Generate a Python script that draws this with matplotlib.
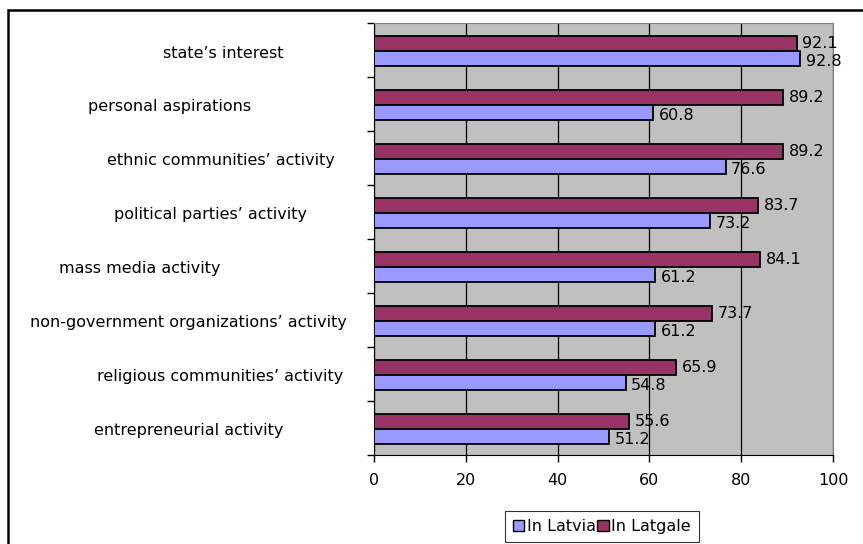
import numpy as np
import matplotlib
matplotlib.use("Agg")
import matplotlib.pyplot as plt
from matplotlib.patches import Rectangle, Patch

# data (top to bottom)
categories = [
    "state\u2019s interest",
    "personal aspirations",
    "ethnic communities\u2019 activity",
    "political parties\u2019 activity",
    "mass media activity",
    "non-government organizations\u2019 activity",
    "religious communities\u2019 activity",
    "entrepreneurial activity",
]
latgale = [92.1, 89.2, 89.2, 83.7, 84.1, 73.7, 65.9, 55.6]
latvia = [92.8, 60.8, 76.6, 73.2, 61.2, 61.2, 54.8, 51.2]
x_ticks = [0, 20, 40, 60, 80, 100]

# label centres in pixels (category labels are not aligned in the original)
label_cx = [223, 170, 221, 210, 140, 188, 220, 189]

W, H = 863, 544
fs = 11.5
fig = plt.figure(figsize=(W / 100, H / 100), dpi=100)
plt.rcParams['font.family'] = ['DejaVu Sans']

# outer frame
fig.patches.append(Rectangle((8 / W, -0.05), 1.2, 1 - 10 / H + 0.05, transform=fig.transFigure,
                             fill=False, edgecolor='black', linewidth=1.8, zorder=0))

ax = fig.add_axes([374 / W, 1 - 455 / H, (833 - 374) / W, (455 - 23) / H])
ax.set_facecolor('#C0C0C0')

y = np.arange(len(categories))
h = 0.28
ax.barh(y - h / 2 + 0.02, latgale, height=h, color='#993366', edgecolor='black', linewidth=1.3, zorder=3, label='In Latgale')
ax.barh(y + h / 2 + 0.02, latvia, height=h, color='#9999FF', edgecolor='black', linewidth=1.3, zorder=3, label='In Latvia')

for i in range(len(categories)):
    ax.annotate(f"{latgale[i]:.1f}", (latgale[i], y[i] - h / 2 + 0.02), xytext=(4, 0), textcoords='offset points',
                va='center', ha='left', fontsize=fs, zorder=4)
    ax.annotate(f"{latvia[i]:.1f}", (latvia[i], y[i] + h / 2 + 0.02), xytext=(4, -2), textcoords='offset points',
                va='center', ha='left', fontsize=fs, zorder=4)

ax.set_xlim(0, 100)
ax.set_ylim(len(categories) - 0.5, -0.5)
ax.set_xticks(x_ticks)
ax.set_xticklabels([str(v) for v in x_ticks], fontsize=fs)
ax.set_yticks(np.arange(-0.5, len(categories), 1.0))
ax.set_yticklabels([])
ax.tick_params(axis='both', direction='out', length=5, width=1, color='black')
ax.tick_params(axis='x', pad=8)
ax.xaxis.grid(True, color='black', linewidth=0.9)
ax.set_axisbelow(True)

ax.spines['left'].set_color('black')
ax.spines['bottom'].set_color('black')
ax.spines['top'].set_color('#808080')
ax.spines['right'].set_color('#808080')

# category labels
for i, cat in enumerate(categories):
    data_y = ax.transData.transform((0, y[i]))[1]
    fig.text(label_cx[i] / W, data_y / H + (-3 / H), cat, ha='center', va='center', fontsize=fs)

handles = [Patch(facecolor='#9999FF', edgecolor='black'), Patch(facecolor='#993366', edgecolor='black')]
leg = fig.legend(handles, ['In Latvia', 'In Latgale'], loc='upper center', bbox_to_anchor=(602 / W, 1 - 511 / H),
                 ncol=2, fontsize=fs, frameon=True, fancybox=False, handlelength=0.7, handleheight=0.7,
                 handletextpad=0.15, columnspacing=0.1, borderpad=0.5, borderaxespad=0)
leg.get_frame().set_edgecolor('black')
leg.get_frame().set_linewidth(0.8)

fig.savefig("out.png", dpi=100)
